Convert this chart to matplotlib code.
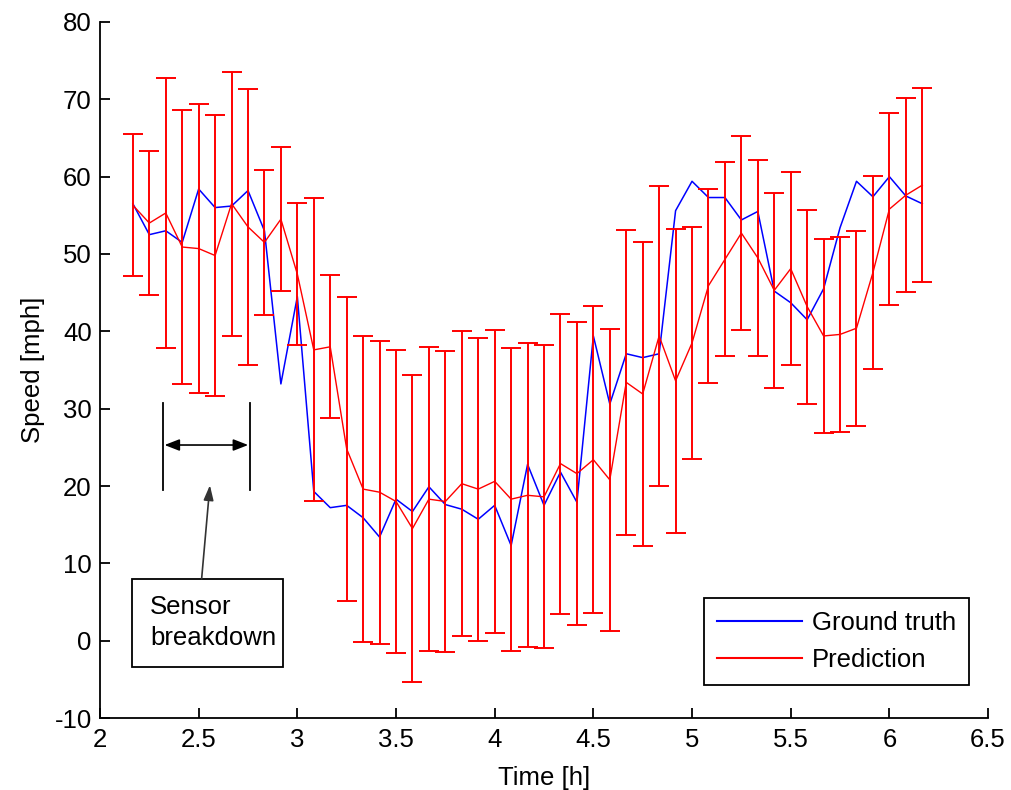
import matplotlib
matplotlib.use('Agg')
import matplotlib.pyplot as plt
import numpy as np
from matplotlib.patches import Rectangle
from matplotlib.lines import Line2D

plt.rcParams['font.family'] = ['Liberation Sans', 'DejaVu Sans']
plt.rcParams['axes.unicode_minus'] = False

# time axis: 5 minute steps from 2:10 to 6:10
t_start = 2 + 10 / 60
n_points = 49
time_h = t_start + np.arange(n_points) / 12

ground_truth = [56.5, 52.5, 53.0, 51.5, 58.4, 56.0, 56.2, 58.2, 53.0, 33.2,
                44.5, 19.3, 17.2, 17.5, 15.9, 13.4, 18.3, 16.7, 19.9, 17.6,
                17.0, 15.7, 17.5, 12.3, 22.8, 17.5, 21.8, 17.9, 39.4, 30.6,
                37.1, 36.6, 37.1, 55.6, 59.4, 57.3, 57.3, 54.4, 55.5, 45.2,
                43.7, 41.5, 45.5, 53.4, 59.4, 57.4, 60.0, 57.5, 56.5]

prediction = [56.3, 54.0, 55.3, 50.9, 50.7, 49.8, 56.5, 53.5, 51.5, 54.5,
              47.4, 37.6, 38.0, 24.8, 19.6, 19.2, 18.0, 14.5, 18.3, 18.0,
              20.3, 19.6, 20.6, 18.3, 18.8, 18.6, 22.9, 21.6, 23.4, 20.8,
              33.4, 31.9, 39.4, 33.6, 38.5, 45.9, 49.3, 52.7, 49.5, 45.3,
              48.1, 43.2, 39.4, 39.6, 40.4, 47.6, 55.8, 57.6, 58.9]

pred_err = [9.15, 9.3, 17.5, 17.7, 18.65, 18.2, 17.05, 17.8, 9.4, 9.3,
            9.2, 19.6, 9.25, 19.65, 19.75, 19.6, 19.55, 19.8, 19.65, 19.5,
            19.75, 19.6, 19.55, 19.6, 19.65, 19.6, 19.4, 19.6, 19.85, 19.55,
            19.75, 19.6, 19.45, 19.65, 14.95, 12.55, 12.55, 12.55, 12.7, 12.6,
            12.5, 12.55, 12.55, 12.6, 12.6, 12.45, 12.45, 12.55, 12.55]

x_ticks = [2, 2.5, 3, 3.5, 4, 4.5, 5, 5.5, 6, 6.5]
y_ticks = list(range(-10, 81, 10))

fig = plt.figure(figsize=(10.11, 7.9), dpi=100)
ax = fig.add_axes([0.0989, 0.0911, 0.8784, 0.8811])

ax.plot(time_h, ground_truth, color='#0000ff', lw=1.1)
ax.errorbar(time_h, prediction, yerr=pred_err, color='#ff0000', lw=1.0,
            ecolor='#ff0000', elinewidth=1.4, capsize=7, capthick=1.4)

ax.set_xlim(2, 6.5)
ax.set_ylim(-10, 80)
ax.set_xticks(x_ticks)
ax.set_xticklabels([f'{v:g}' for v in x_ticks])
ax.set_yticks(y_ticks)
ax.spines['top'].set_visible(False)
ax.spines['right'].set_visible(False)
for s in ['left', 'bottom']:
    ax.spines[s].set_linewidth(1.3)
ax.tick_params(direction='in', length=7, width=1.3, labelsize=18.5, pad=6)
ax.tick_params(axis='x', pad=7)
ax.set_xlabel('Time [h]', fontsize=18.5, labelpad=10)
ax.set_ylabel('Speed [mph]', fontsize=18.5, labelpad=7)

# sensor breakdown annotation
ax.plot([2.318, 2.318], [19.5, 30.7], color='k', lw=1.3)
ax.plot([2.760, 2.760], [19.5, 30.7], color='k', lw=1.3)
ax.annotate('', xy=(2.327, 25.3), xytext=(2.751, 25.3),
            arrowprops=dict(arrowstyle='<|-|>,head_length=0.9,head_width=0.35',
                            color='k', lw=1.2, shrinkA=0, shrinkB=0))
ax.annotate('', xy=(2.557, 20.1), xytext=(2.515, 8.0),
            arrowprops=dict(arrowstyle='-|>,head_length=0.9,head_width=0.3',
                            color='#333333', lw=1.2, shrinkA=0, shrinkB=0))
ax.add_patch(Rectangle((2.161, -3.37), 0.768, 11.3, fill=False, ec='k', lw=1.3))
ax.text(2.253, 4.4, 'Sensor', fontsize=18.5, va='center', ha='left')
ax.text(2.253, 0.3, 'breakdown', fontsize=18.5, va='center', ha='left')

# legend shows plain lines, no error bar glyph
handles = [Line2D([], [], color='#0000ff', lw=1.5),
           Line2D([], [], color='#ff0000', lw=1.5)]
leg = ax.legend(handles, ['Ground truth', 'Prediction'], loc='lower right',
                bbox_to_anchor=(0.9786, 0.0474), borderaxespad=0,
                fontsize=18.5, fancybox=False, framealpha=1, edgecolor='k',
                handlelength=3.3, handletextpad=0.4, labelspacing=0.5,
                borderpad=0.5)
leg.get_frame().set_linewidth(1.3)

plt.savefig('out.png', dpi=100)
